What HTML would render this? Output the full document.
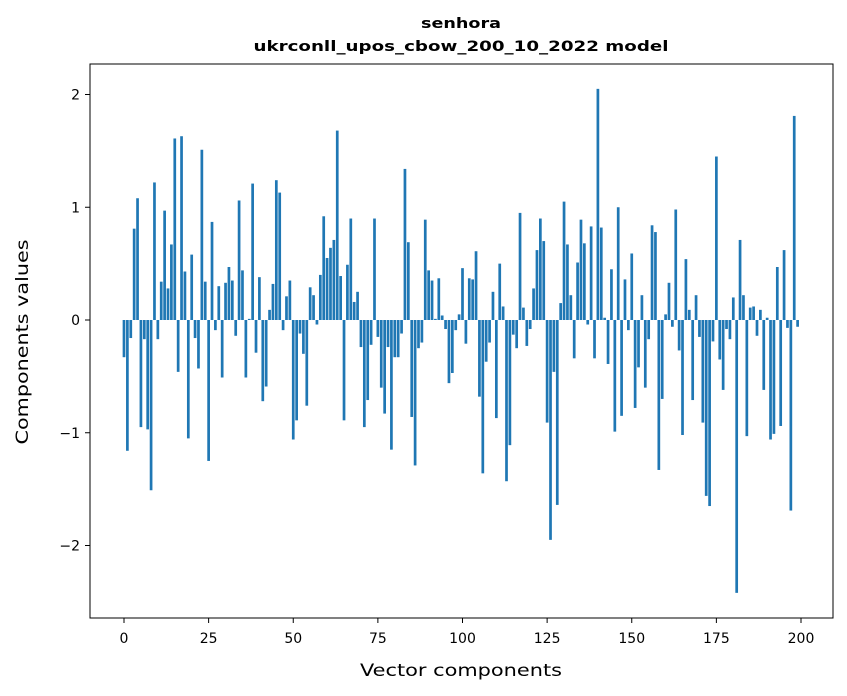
<!DOCTYPE html>
<html><head><meta charset="utf-8"><style>
html,body{margin:0;padding:0;background:#fff;}
svg{display:block;font-family:"DejaVu Sans","Liberation Sans",sans-serif;}
</style></head><body>
<svg id="chart" width="847" height="696" viewBox="0 0 847 696" xmlns="http://www.w3.org/2000/svg">
<rect x="0" y="0" width="847" height="696" fill="#fff"/>
<text x="461" y="28" text-anchor="middle" font-size="14" font-weight="bold" textLength="80" lengthAdjust="spacingAndGlyphs">senhora</text>
<text x="461" y="51" text-anchor="middle" font-size="14" font-weight="bold" textLength="415" lengthAdjust="spacingAndGlyphs">ukrconll_upos_cbow_200_10_2022 model</text>
<g id="bars"></g>
<g id="xticks"></g>
<g id="yticks"></g>
<rect x="90" y="64" width="743" height="554" fill="none" stroke="#000" stroke-width="1"/>
<text x="461" y="676" text-anchor="middle" font-size="17" textLength="202" lengthAdjust="spacingAndGlyphs">Vector components</text>
<text transform="translate(28,342) rotate(-90)" text-anchor="middle" font-size="17" textLength="205" lengthAdjust="spacingAndGlyphs">Components values</text>
</svg>
<script>
const values = [
-0.33,-1.16,-0.16,0.81,1.08,-0.95,-0.17,-0.97,-1.51,1.22,
-0.17,0.34,0.97,0.28,0.67,1.61,-0.46,1.63,0.43,-1.05,
0.58,-0.16,-0.43,1.51,0.34,-1.25,0.87,-0.09,0.30,-0.51,
0.33,0.47,0.35,-0.14,1.06,0.44,-0.51,0.01,1.21,-0.29,
0.38,-0.72,-0.59,0.09,0.32,1.24,1.13,-0.09,0.21,0.35,
-1.06,-0.89,-0.12,-0.30,-0.76,0.29,0.22,-0.04,0.40,0.92,
0.55,0.64,0.71,1.68,0.39,-0.89,0.49,0.90,0.16,0.25,
-0.24,-0.95,-0.71,-0.22,0.90,-0.15,-0.60,-0.83,-0.24,-1.15,
-0.33,-0.33,-0.12,1.34,0.69,-0.86,-1.29,-0.25,-0.20,0.89,
0.44,0.35,0.01,0.37,0.04,-0.08,-0.56,-0.47,-0.09,0.05,
0.46,-0.21,0.37,0.36,0.61,-0.68,-1.36,-0.37,-0.20,0.25,
-0.87,0.50,0.12,-1.43,-1.11,-0.13,-0.25,0.95,0.11,-0.23,
-0.08,0.28,0.62,0.90,0.70,-0.91,-1.95,-0.46,-1.64,0.15,
1.05,0.67,0.22,-0.34,0.51,0.89,0.68,-0.04,0.83,-0.34,
2.05,0.82,0.02,-0.39,0.45,-0.99,1.00,-0.85,0.36,-0.09,
0.59,-0.78,-0.42,0.22,-0.60,-0.17,0.84,0.78,-1.33,-0.70,
0.05,0.33,-0.06,0.98,-0.27,-1.02,0.54,0.09,-0.71,0.22,
-0.15,-0.91,-1.56,-1.65,-0.19,1.45,-0.35,-0.62,-0.08,-0.17,
0.20,-2.42,0.71,0.22,-1.03,0.11,0.12,-0.14,0.09,-0.62,
0.02,-1.06,-1.01,0.47,-0.94,0.62,-0.07,-1.69,1.81,-0.06
];
const xTickValues = [0,25,50,75,100,125,150,175,200];
const yTickValues = [-2,-1,0,1,2];
const yTickLabels = ["\u22122","\u22121","0","1","2"];

const NS = "http://www.w3.org/2000/svg";
function xScale(v){ return 124 + v * 3.385; }
function yScale(v){ return 320 - v * 112.75; }

const barsG = document.getElementById('bars');
const bw = 0.8 * 3.385;
values.forEach(function(v, i){
  const r = document.createElementNS(NS, 'rect');
  
  
  const y0 = yScale(0), y1 = yScale(v);
  r.setAttribute('x', xScale(i) - bw/2);
  r.setAttribute('y', Math.min(y0, y1));
  r.setAttribute('width', bw);
  r.setAttribute('height', Math.max(Math.abs(y1 - y0), 0.3));
  r.setAttribute('fill', '#1f77b4');
  barsG.appendChild(r);
});

const xg = document.getElementById('xticks');
xTickValues.forEach(function(t){
  const x = xScale(t);
  const l = document.createElementNS(NS, 'line');
  
  
  l.setAttribute('x1', x); l.setAttribute('x2', x);
  l.setAttribute('y1', 618); l.setAttribute('y2', 623);
  l.setAttribute('stroke', '#000');
  xg.appendChild(l);
  const tx = document.createElementNS(NS, 'text');
  
  
  tx.setAttribute('x', x); tx.setAttribute('y', 643);
  tx.setAttribute('text-anchor', 'middle');
  tx.setAttribute('font-size', '14');
  tx.textContent = String(t);
  xg.appendChild(tx);
});

const yg = document.getElementById('yticks');
yTickValues.forEach(function(t, i){
  const y = yScale(t);
  const l = document.createElementNS(NS, 'line');
  
  
  l.setAttribute('x1', 85); l.setAttribute('x2', 90);
  l.setAttribute('y1', y); l.setAttribute('y2', y);
  l.setAttribute('stroke', '#000');
  yg.appendChild(l);
  const tx = document.createElementNS(NS, 'text');
  
  
  tx.setAttribute('x', 80); tx.setAttribute('y', y + 5);
  tx.setAttribute('text-anchor', 'end');
  tx.setAttribute('font-size', '14');
  tx.textContent = yTickLabels[i];
  yg.appendChild(tx);
});
</script>
</body></html>
